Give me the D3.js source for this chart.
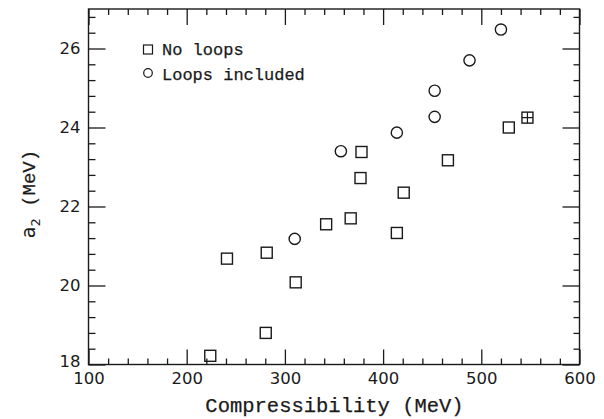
<!DOCTYPE html>
<html>
<head>
<meta charset="utf-8">
<script src="https://cdn.jsdelivr.net/npm/d3@7"></script>
<style>
  html, body { margin: 0; padding: 0; background: #fff; }
  svg { display: block; }
  .tick text { font-family: "DejaVu Sans", sans-serif; font-size: 16.5px; fill: #1a1a1a; }
  .tick line { stroke: #1a1a1a; stroke-width: 1.3px; }
  .title { font-family: "Liberation Mono", "DejaVu Sans Mono", monospace; fill: #1a1a1a; stroke: #1a1a1a; stroke-width: 0.25px; }
</style>
</head>
<body>
<script>
// Symmetry energy coefficient a2 versus nuclear compressibility
const noLoopsK  = [224, 241, 281.5, 280.5, 311, 342, 367, 414, 377, 378, 421, 466, 528];
const noLoopsA2 = [18.22, 20.68, 20.83, 18.8, 20.08, 21.55, 21.7, 21.33, 22.72, 23.38, 22.35, 23.17, 24.0];
const crossK    = [547];
const crossA2   = [24.25];
const loopsK    = [310, 357, 414, 452.5, 452.5, 488, 520];
const loopsA2   = [21.18, 23.4, 23.87, 24.27, 24.93, 25.7, 26.48];

const xMajor = [100, 200, 300, 400, 500, 600];
const xMinor = d3.range(100, 601, 20).filter(v => v % 100 !== 0);
const yMajor = [18, 20, 22, 24, 26];
const yMinor = d3.range(18, 27.01, 0.4).map(v => +v.toFixed(1)).filter(v => Math.abs(v / 2 - Math.round(v / 2)) > 1e-6);

const legendLabels = ["No loops", "Loops included"];
const xTitle = "Compressibility (MeV)";

const W = 604, H = 419;
const svg = d3.select("body").append("svg").attr("width", W).attr("height", H);

const x = d3.scaleLinear().domain([100, 600]).range([88.5, 579.5]);
const y = d3.scaleLinear().domain([18, 27]).range([364.5, 9]);

const ink = "#1a1a1a";

function axisGroup(axis, tx, ty) {
  const g = svg.append("g").attr("transform", `translate(${tx},${ty})`).call(axis);
  g.select(".domain").remove();
  return g;
}

// bottom axis: inward ticks with labels
axisGroup(d3.axisBottom(x).tickValues(xMajor).tickSize(-15).tickPadding(8).tickFormat(d3.format("d")), 0, y(18));
axisGroup(d3.axisBottom(x).tickValues(xMinor).tickSize(-6).tickFormat(""), 0, y(18));
// top axis: ticks only
axisGroup(d3.axisTop(x).tickValues(xMajor).tickSize(-16).tickFormat(""), 0, y(27));
axisGroup(d3.axisTop(x).tickValues(xMinor).tickSize(-6).tickFormat(""), 0, y(27));
// left axis
const gl = axisGroup(d3.axisLeft(y).tickValues(yMajor).tickSize(-17).tickPadding(8).tickFormat(d3.format("d")), x(100), 0);
axisGroup(d3.axisLeft(y).tickValues(yMinor).tickSize(-7).tickFormat(""), x(100), 0);
// right axis
axisGroup(d3.axisRight(y).tickValues(yMajor).tickSize(-17).tickFormat(""), x(600), 0);
axisGroup(d3.axisRight(y).tickValues(yMinor).tickSize(-6).tickFormat(""), x(600), 0);

// nudge the lowest y label up so it clears the corner
gl.selectAll(".tick").filter(d => d === 18).select("text").attr("dy", "0.1em");

// frame
svg.append("rect")
  .attr("x", x(100)).attr("y", y(27))
  .attr("width", x(600) - x(100)).attr("height", y(18) - y(27))
  .attr("fill", "none").attr("stroke", ink).attr("stroke-width", 1.4);

// markers
const S = 11; // square side
const R = 5.6; // circle radius

svg.append("g").selectAll("rect")
  .data(d3.zip(noLoopsK, noLoopsA2))
  .join("rect")
  .attr("x", d => x(d[0]) - S / 2).attr("y", d => y(d[1]) - S / 2)
  .attr("width", S).attr("height", S)
  .attr("fill", "none").attr("stroke", ink).attr("stroke-width", 1.4);

const cross = svg.append("g").selectAll("g")
  .data(d3.zip(crossK, crossA2))
  .join("g")
  .attr("transform", d => `translate(${x(d[0])},${y(d[1])})`);
cross.append("rect")
  .attr("x", -S / 2).attr("y", -S / 2).attr("width", S).attr("height", S)
  .attr("fill", "none").attr("stroke", ink).attr("stroke-width", 1.4);
cross.append("path")
  .attr("d", `M${-S / 2},0H${S / 2}M0,${-S / 2}V${S / 2}`)
  .attr("stroke", ink).attr("stroke-width", 1.2);

svg.append("g").selectAll("circle")
  .data(d3.zip(loopsK, loopsA2))
  .join("circle")
  .attr("cx", d => x(d[0])).attr("cy", d => y(d[1])).attr("r", R)
  .attr("fill", "none").attr("stroke", ink).attr("stroke-width", 1.4);

// legend
const lg = svg.append("g");
lg.append("rect").attr("x", 143.5).attr("y", 45).attr("width", 9).attr("height", 9)
  .attr("fill", "none").attr("stroke", ink).attr("stroke-width", 1.2);
lg.append("circle").attr("cx", 148).attr("cy", 73).attr("r", 4.3)
  .attr("fill", "none").attr("stroke", ink).attr("stroke-width", 1.2);
lg.selectAll("text")
  .data(legendLabels)
  .join("text")
  .attr("class", "title")
  .attr("x", 162).attr("y", (d, i) => 55 + i * 24.5)
  .attr("font-size", 17)
  .text(d => d);

// axis titles
svg.append("text")
  .attr("class", "title")
  .attr("x", (x(100) + x(600)) / 2 + 0.5).attr("y", 412)
  .attr("text-anchor", "middle")
  .attr("font-size", 20.5)
  .text(xTitle);

const yt = svg.append("text")
  .attr("class", "title")
  .attr("transform", `translate(35,194) rotate(-90)`)
  .attr("text-anchor", "middle")
  .attr("font-size", 19);
yt.append("tspan").attr("font-family", "DejaVu Sans, sans-serif").attr("stroke-width", 0).text("a");
yt.append("tspan").attr("font-family", "DejaVu Sans, sans-serif").attr("stroke-width", 0).attr("font-size", 13).attr("dy", 5).text("2");
yt.append("tspan").attr("dy", -5).text(" (MeV)");
</script>
</body>
</html>
